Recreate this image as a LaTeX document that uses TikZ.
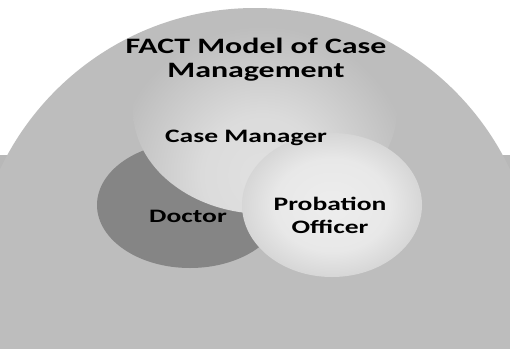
\documentclass[tikz,border=0pt]{standalone}
\usepackage{fontspec}
\newfontfamily\dfont{Carlito}[FakeStretch=1.45]
\pgfdeclareradialshading{cmshade}{\pgfpointorigin}{rgb(0bp)=(0.88,0.88,0.88); rgb(10bp)=(0.86,0.86,0.86); rgb(25bp)=(0.74,0.74,0.74); rgb(50bp)=(0.74,0.74,0.74)}
\pgfdeclareradialshading{poshade}{\pgfpointorigin}{rgb(0bp)=(0.93,0.93,0.93); rgb(16bp)=(0.91,0.91,0.91); rgb(25bp)=(0.84,0.84,0.84); rgb(50bp)=(0.84,0.84,0.84)}
\definecolor{bggray}{gray}{0.74}
\definecolor{bandgray}{gray}{0.72}
\definecolor{docgray}{gray}{0.52}
\begin{document}
\begin{tikzpicture}[x=1pt,y=-1pt,
  lbl/.style={font=\dfont\bfseries\fontsize{19}{23}\selectfont, text=black, align=center, inner sep=0pt},
  ttl/.style={font=\dfont\bfseries\fontsize{22}{24}\selectfont, text=black, align=center, inner sep=0pt}]
\useasboundingbox (0,0) rectangle (510,348);
\fill[white] (0,0) rectangle (510,348);
\begin{scope}
  \clip (0,0) rectangle (510,348);
  \fill[bandgray] (0,155) rectangle (510,348);
  \fill[bggray] (255,290) circle [radius=282pt];
  \fill[docgray] (190,205) ellipse [x radius=93pt, y radius=63pt];
  \begin{scope}
    \clip (265,110) ellipse [x radius=132pt, y radius=104pt];
    \shade[shading=cmshade] (262,175) circle [radius=150pt];
  \end{scope}
  \shade[shading=poshade] (332,205) ellipse [x radius=90pt, y radius=72pt];
\end{scope}
\node[ttl, anchor=base] (title) at (256,77) {FACT Model of Case\\Management};
\node[lbl, anchor=base] (cm) at (246,142) {Case Manager};
\node[lbl, anchor=base] (doc) at (188,222) {Doctor};
\node[lbl, anchor=base] (po) at (330,233) {Probation\\Officer};
\end{tikzpicture}
\end{document}
